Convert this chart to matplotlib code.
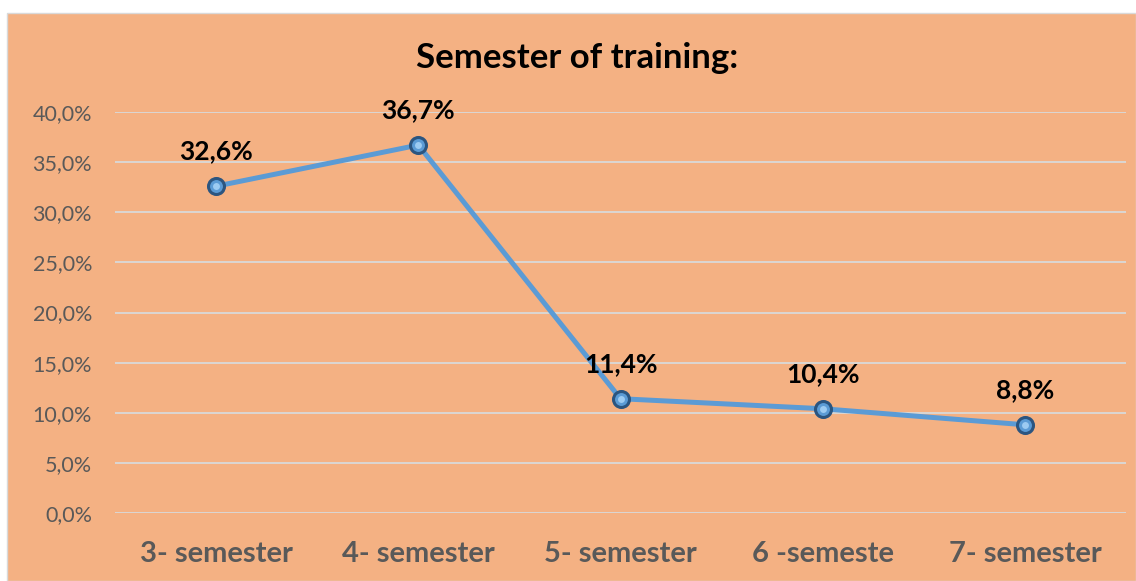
import matplotlib
matplotlib.use("Agg")
import matplotlib.pyplot as plt
from matplotlib.patches import Rectangle
from matplotlib.ticker import FuncFormatter

categories = ["3- semester", "4- semester", "5- semester", "6 -semeste", "7- semester"]
values = [32.6, 36.7, 11.4, 10.4, 8.8]
labels = ["32,6%", "36,7%", "11,4%", "10,4%", "8,8%"]
yticks = [0, 5, 10, 15, 20, 25, 30, 35, 40]

plt.rcParams['font.family'] = ['Lato', 'DejaVu Sans']

fig = plt.figure(figsize=(11.36, 5.81), dpi=100)
fig.patch.set_facecolor("white")
bg = "#F4B183"
fig.patches.append(Rectangle((7/1136, 0), 1 - 7/1136, 1 - 13/581, transform=fig.transFigure,
                             facecolor=bg, edgecolor="#D9D9D9", linewidth=1, zorder=-5))

ax = fig.add_axes([115/1136, 1 - 513/581, 1011/1136, 401/581])
ax.set_zorder(2)
ax.set_facecolor("none")
x = list(range(len(categories)))
ax.plot(x, values, color="#5B9BD5", linewidth=3.6, zorder=3, solid_capstyle="round")
ax.plot(x, values, linestyle="none", marker="o", markersize=11.5, markerfacecolor="#5B9BD5",
        markeredgecolor="#2B5580", markeredgewidth=2.2, zorder=4)
ax.plot(x, values, linestyle="none", marker="o", markersize=5, markerfacecolor="#9CCBF2",
        markeredgecolor="none", zorder=5)

for xi, v, lab in zip(x, values, labels):
    ax.annotate(lab, (xi, v), xytext=(0, 25), textcoords="offset points", ha="center", va="center",
                fontsize=19, fontweight="bold", color="black", zorder=6)

ax.set_xlim(-0.5, len(categories) - 0.5)
ax.set_ylim(0, 40)
ax.set_yticks(yticks)
ax.yaxis.set_major_formatter(FuncFormatter(lambda v, p: f"{v:.1f}%".replace(".", ",")))
ax.set_xticks(x)
ax.set_xticklabels(categories, fontsize=21, fontweight="bold", color="#595959")
ax.tick_params(axis="y", labelsize=15.5, labelcolor="#595959", length=0, pad=16.5)
ax.tick_params(axis="x", length=0, pad=20.5)
ax.grid(axis="y", color="#D9D9D9", linewidth=1.3, zorder=1)
ax.set_axisbelow(True)
for s in ax.spines.values():
    s.set_visible(False)

fig.text(577/1136, 1 - 58/581, "Semester of training:", ha="center", va="center",
         fontsize=25, fontweight="bold", color="black")

fig.savefig("out.png", dpi=100)
